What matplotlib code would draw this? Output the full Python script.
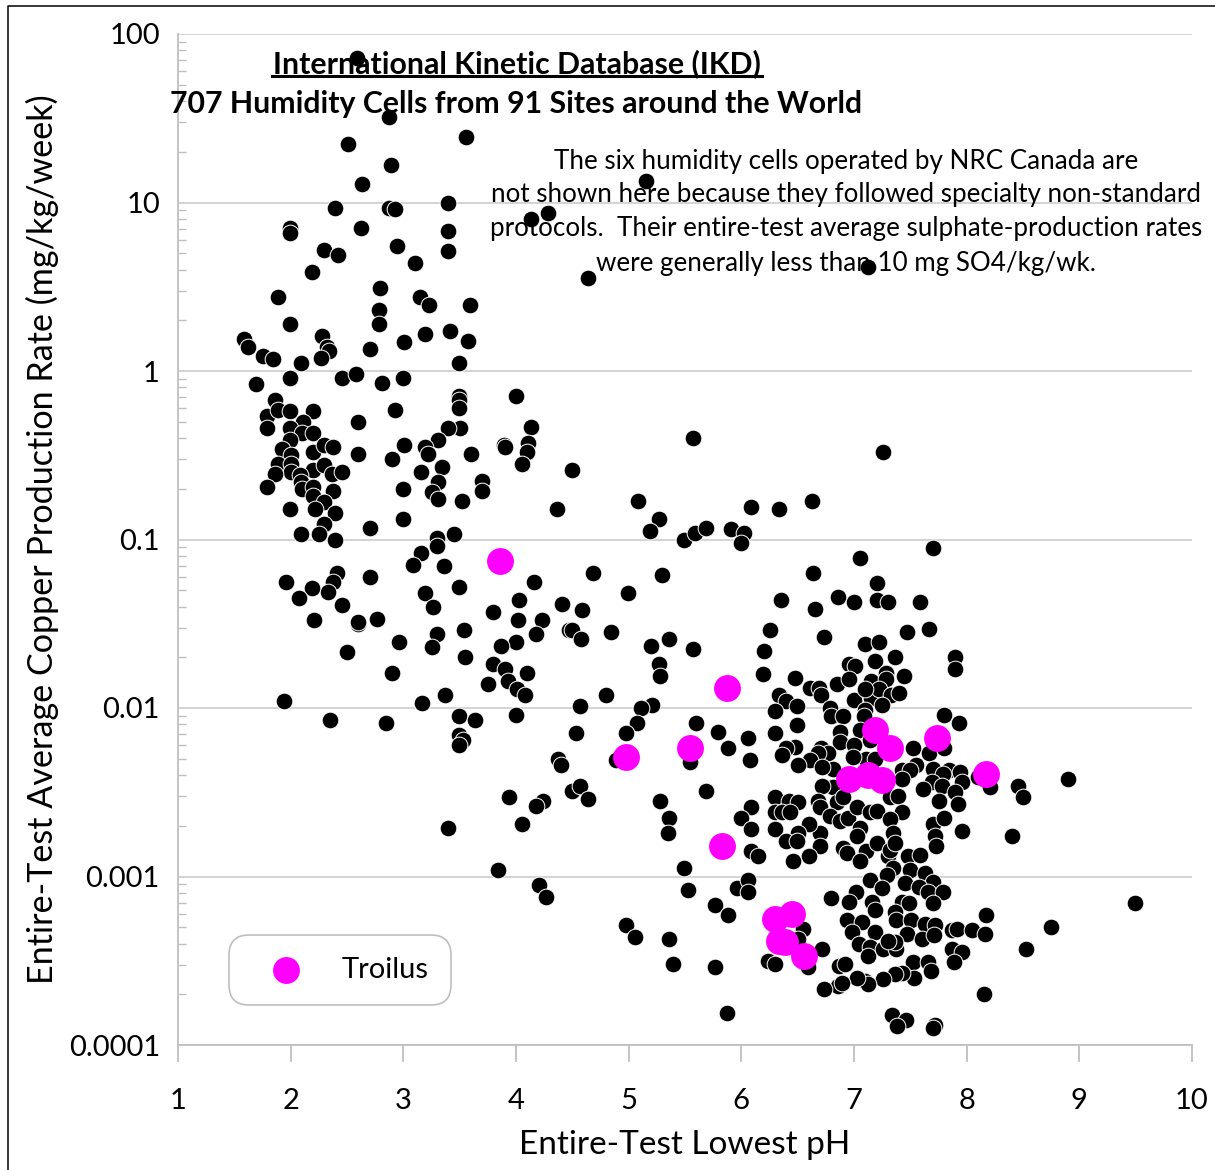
import numpy as np
import matplotlib
matplotlib.use("Agg")
import matplotlib.pyplot as plt
from matplotlib.lines import Line2D
from matplotlib.ticker import LogLocator, NullFormatter

plt.rcParams['font.family'] = ['Lato', 'DejaVu Sans']

# values: lowest pH and log10 of the copper rate (mg/kg/week)
high_ph = [2.59, 2.51, 2.87, 3.56, 2.89, 2.63, 2.39, 2.87, 2.93, 3.40, 1.99, 1.99, 2.62, 3.40, 2.30,
           2.42, 2.94, 3.40, 3.10, 2.19, 2.79, 1.89, 3.15, 3.23, 3.59, 2.78, 2.78, 1.99, 2.28, 3.41,
           3.19, 3.57, 3.01, 2.32, 2.34, 2.27, 2.70, 1.59, 1.62, 1.75, 1.84, 2.09, 3.49,
           5.15, 4.13, 4.28, 4.64, 7.12]
high_log = [1.86, 1.35, 1.51, 1.39, 1.22, 1.11, 0.97, 0.97, 0.96, 1.00, 0.85, 0.82, 0.85, 0.83, 0.72,
            0.69, 0.74, 0.71, 0.64, 0.59, 0.49, 0.44, 0.44, 0.39, 0.39, 0.36, 0.28, 0.28, 0.21, 0.24,
            0.22, 0.18, 0.17, 0.14, 0.12, 0.08, 0.13, 0.19, 0.14, 0.09, 0.07, 0.05, 0.05,
            1.13, 0.90, 0.94, 0.55, 0.62]

upper_ph = [2.46, 2.58, 2.81, 3.00, 1.99, 1.69, 3.49, 3.49, 3.49, 4.00, 1.86, 1.79, 1.89, 1.99, 2.20,
            2.11, 1.79, 1.99, 2.10, 2.20, 2.60, 2.93, 3.50, 3.40, 3.31, 3.19, 3.22, 3.01, 2.90, 2.60,
            3.60, 3.89, 4.13, 3.90, 4.11, 4.10, 4.05, 3.34, 3.16, 3.31, 3.25, 3.31, 3.52, 3.70, 3.70,
            3.00, 1.99, 1.92, 2.00, 1.89, 2.00, 2.00, 1.86, 1.79, 2.20, 2.30, 2.38, 2.20, 2.30, 2.37,
            2.46, 2.08, 2.09, 2.10, 2.20, 2.20, 2.38, 2.30, 2.22, 1.99, 2.39, 2.30, 2.09, 2.25, 2.39,
            2.70, 3.00, 3.30, 3.45, 4.36, 4.50, 5.08, 5.27, 5.19, 5.57, 7.26, 6.63, 6.33, 6.09, 5.49,
            5.59, 5.69, 5.91, 6.02]
upper_log = [-0.04, -0.02, -0.07, -0.04, -0.04, -0.08, -0.15, -0.17, -0.22, -0.15, -0.17, -0.27, -0.23, -0.24, -0.24,
             -0.30, -0.34, -0.34, -0.37, -0.37, -0.30, -0.23, -0.34, -0.34, -0.41, -0.45, -0.49, -0.44, -0.52, -0.49,
             -0.49, -0.44, -0.33, -0.45, -0.43, -0.48, -0.55, -0.57, -0.60, -0.66, -0.72, -0.76, -0.77, -0.65, -0.71,
             -0.70, -0.41, -0.46, -0.50, -0.55, -0.55, -0.60, -0.61, -0.69, -0.48, -0.44, -0.45, -0.59, -0.56, -0.61,
             -0.60, -0.62, -0.66, -0.70, -0.69, -0.74, -0.71, -0.78, -0.82, -0.82, -0.84, -0.91, -0.97, -0.97, -1.00,
             -0.93, -0.88, -0.99, -0.97, -0.82, -0.59, -0.77, -0.88, -0.95, -0.40, -0.48, -0.77, -0.82, -0.81, -1.00,
             -0.96, -0.93, -0.94, -0.96]

mid_ph = [6.00, 3.30, 3.16, 3.09, 3.36, 3.49, 3.19, 3.26, 3.80, 4.03, 4.02, 4.16, 4.23, 4.41, 2.70,
          2.41, 2.38, 2.33, 2.19, 1.96, 2.07, 2.46, 2.21, 2.60, 2.60, 2.77, 2.50, 2.96, 2.90, 3.54,
          3.30, 3.25, 3.55, 4.18, 4.47, 4.00, 3.87, 3.80, 3.90, 4.10, 3.93, 4.01, 4.08, 3.75, 3.37,
          3.17, 1.94, 4.80, 4.57, 4.50, 4.58, 4.84, 4.99, 4.68, 4.59, 5.30, 5.20, 5.36, 5.57, 5.27,
          5.28, 5.21, 5.11, 6.35, 6.25, 6.20, 6.19, 6.73, 7.47, 7.67, 7.10, 7.22, 6.64, 7.20, 6.86,
          7.00, 6.65, 7.20, 7.30, 7.59, 7.05, 7.70, 7.90, 7.90]
mid_log = [-1.02, -1.04, -1.08, -1.15, -1.16, -1.28, -1.32, -1.40, -1.43, -1.36, -1.48, -1.25, -1.48, -1.38, -1.22,
           -1.20, -1.25, -1.31, -1.29, -1.25, -1.35, -1.39, -1.48, -1.50, -1.49, -1.47, -1.67, -1.61, -1.79, -1.54,
           -1.56, -1.64, -1.70, -1.56, -1.54, -1.61, -1.63, -1.74, -1.77, -1.79, -1.84, -1.89, -1.92, -1.86, -1.92,
           -1.97, -1.96, -1.92, -1.99, -1.54, -1.59, -1.55, -1.32, -1.20, -1.42, -1.21, -1.63, -1.59, -1.65, -1.74,
           -1.81, -1.98, -2.00, -1.36, -1.54, -1.66, -1.80, -1.58, -1.55, -1.53, -1.62, -1.61, -1.20, -1.26, -1.34,
           -1.37, -1.41, -1.36, -1.37, -1.37, -1.11, -1.05, -1.70, -1.77]

cluster_ph = [7.19, 7.36, 6.96, 7.01, 6.48, 6.61, 6.69, 6.71, 6.85, 6.96, 7.15, 7.28, 7.28, 7.44, 6.33,
              6.40, 6.49, 6.30, 7.00, 7.15, 7.22, 7.10, 7.33, 7.40, 7.25, 7.10, 6.79, 6.80, 6.90, 7.09,
              6.49, 6.30, 6.06, 7.80, 7.93, 7.05, 6.88, 6.88, 7.14, 7.00, 6.48, 6.40, 6.36, 6.71, 6.77,
              6.68, 6.61, 6.50, 6.08, 7.52, 7.67, 7.80, 7.11, 7.19, 6.99, 6.81, 6.72, 7.55, 7.70, 7.84,
              7.94, 7.43, 7.50, 7.79, 7.69, 7.78, 7.96, 7.43, 7.61, 7.90, 8.21, 8.10, 7.32, 7.39, 7.75,
              7.92, 8.46, 8.50, 8.90, 6.81, 6.72, 6.68, 6.85, 6.90, 6.30, 6.42, 6.50, 6.09, 6.30, 6.36,
              6.43, 6.00, 6.09, 6.30, 6.70, 6.79, 6.88, 6.95, 7.03, 7.14, 7.20, 7.43, 7.32, 7.70, 7.80,
              7.96, 8.40, 7.72, 7.35, 7.05, 7.03, 6.70, 6.60, 6.50, 6.40, 6.49, 6.70, 6.60, 6.46, 6.09,
              6.15, 6.90, 6.94, 7.11, 7.20, 7.05, 7.30, 7.32, 7.36, 7.73, 7.48, 7.59, 7.35, 7.50, 7.63,
              7.29]
cluster_log = [-1.72, -1.70, -1.74, -1.75, -1.82, -1.88, -1.88, -1.92, -1.86, -1.83, -1.84, -1.79, -1.83, -1.81, -1.92,
               -1.96, -1.99, -2.02, -1.95, -1.94, -1.89, -1.89, -1.92, -1.91, -1.98, -2.01, -2.00, -2.05, -2.05, -2.05,
               -2.10, -2.15, -2.18, -2.04, -2.09, -2.13, -2.14, -2.20, -2.19, -2.22, -2.23, -2.24, -2.28, -2.24, -2.27,
               -2.27, -2.31, -2.34, -2.31, -2.24, -2.27, -2.24, -2.30, -2.30, -2.29, -2.36, -2.35, -2.34, -2.36, -2.37,
               -2.38, -2.37, -2.37, -2.39, -2.44, -2.46, -2.44, -2.42, -2.48, -2.50, -2.47, -2.41, -2.53, -2.52, -2.55,
               -2.57, -2.46, -2.53, -2.42, -2.47, -2.46, -2.55, -2.56, -2.53, -2.53, -2.55, -2.56, -2.59, -2.62, -2.62,
               -2.62, -2.65, -2.72, -2.72, -2.59, -2.64, -2.67, -2.65, -2.59, -2.62, -2.61, -2.62, -2.66, -2.69, -2.65,
               -2.73, -2.76, -2.76, -2.74, -2.71, -2.76, -2.74, -2.69, -2.74, -2.79, -2.79, -2.82, -2.88, -2.91, -2.85,
               -2.88, -2.83, -2.86, -2.85, -2.80, -2.91, -2.88, -2.84, -2.80, -2.82, -2.88, -2.87, -2.95, -2.96, -2.98,
               -2.99]

scatter_ph = [5.36, 5.35, 5.28, 5.69, 5.49, 4.89, 5.54, 5.60, 5.79, 5.88, 5.07, 4.98, 4.53, 4.37, 4.40,
              4.50, 4.57, 4.64, 3.94, 4.24, 4.18, 4.05, 3.40, 3.84, 4.20, 4.27, 3.49, 3.64, 2.35, 2.85,
              4.00, 3.49, 3.53, 3.49]
scatter_log = [-2.65, -2.74, -2.55, -2.49, -2.95, -2.31, -2.32, -2.09, -2.14, -2.24, -2.09, -2.15, -2.15, -2.30, -2.34,
               -2.49, -2.46, -2.54, -2.53, -2.55, -2.58, -2.69, -2.71, -2.96, -3.05, -3.12, -2.05, -2.07, -2.07, -2.09,
               -2.04, -2.16, -2.19, -2.22]

low_ph = [5.53, 5.96, 6.06, 6.06, 5.77, 5.88, 4.98, 5.06, 5.36, 5.39, 5.77, 5.87, 7.14, 7.25, 7.45,
          7.70, 7.58, 7.66, 7.79, 7.70, 7.02, 6.96, 6.80, 7.16, 7.19, 7.43, 7.49, 7.36, 7.37, 7.51,
          7.63, 7.72, 6.94, 7.07, 6.98, 7.19, 7.47, 7.60, 7.71, 7.87, 7.91, 8.05, 8.16, 8.17, 7.04,
          7.14, 7.12, 7.26, 7.37, 7.36, 7.30, 7.87, 7.96, 7.89, 7.52, 7.66, 7.68, 7.53, 7.43, 7.36,
          7.26, 7.10, 7.12, 7.03, 6.87, 6.92, 6.86, 6.89, 6.73, 8.15, 7.34, 7.46, 7.38, 7.72, 7.70,
          6.55, 6.50, 6.72, 6.24, 6.30, 6.59, 9.49, 8.75, 8.53]
low_log = [-3.08, -3.07, -3.02, -3.09, -3.17, -3.23, -3.29, -3.36, -3.37, -3.52, -3.54, -3.81, -3.02, -3.07, -3.04,
           -3.03, -3.06, -3.09, -3.09, -3.16, -3.09, -3.15, -3.13, -3.15, -3.20, -3.15, -3.16, -3.21, -3.26, -3.26,
           -3.28, -3.29, -3.26, -3.27, -3.33, -3.33, -3.34, -3.37, -3.35, -3.32, -3.31, -3.32, -3.34, -3.23, -3.40,
           -3.42, -3.47, -3.43, -3.43, -3.39, -3.38, -3.43, -3.45, -3.51, -3.51, -3.51, -3.56, -3.60, -3.57, -3.58,
           -3.61, -3.62, -3.64, -3.60, -3.53, -3.52, -3.65, -3.63, -3.67, -3.70, -3.82, -3.85, -3.89, -3.88, -3.90,
           -3.31, -3.37, -3.43, -3.50, -3.52, -3.54, -3.16, -3.30, -3.43]

troilus_ph = [3.86, 4.98, 5.54, 5.87, 5.83, 7.19, 7.32, 7.74, 8.17, 6.96, 7.12, 7.25, 6.30, 6.45, 6.33, 6.39, 6.56]
troilus_log = [-1.13, -2.29, -2.24, -1.88, -2.82, -2.13, -2.24, -2.18, -2.39, -2.42, -2.40, -2.43, -3.25, -3.22,
               -3.38, -3.39, -3.47]

x_ticks = [1, 2, 3, 4, 5, 6, 7, 8, 9, 10]
y_ticks = [0.0001, 0.001, 0.01, 0.1, 1, 10, 100]
y_labels = ['0.0001', '0.001', '0.01', '0.1', '1', '10', '100']

title_lines = ['International Kinetic Database (IKD)',
               '707 Humidity Cells from 91 Sites around the World']
note_lines = ['The six humidity cells operated by NRC Canada are',
              'not shown here because they followed specialty non-standard',
              'protocols.  Their entire-test average sulphate-production rates',
              'were generally less than 10 mg SO4/kg/wk.']

W, H = 1215, 1170
GREY = '#bfbfbf'

all_ph = np.concatenate([high_ph, upper_ph, mid_ph, cluster_ph, scatter_ph, low_ph])
all_log = np.concatenate([high_log, upper_log, mid_log, cluster_log, scatter_log, low_log])

fig = plt.figure(figsize=(W / 100, H / 100), dpi=100)
ax = fig.add_axes([178 / W, (H - 1045) / H, 1014 / W, 1011 / H])

ax.scatter(all_ph, 10.0 ** all_log, s=145, c='black', edgecolors='white', linewidths=0.7, zorder=3, clip_on=False)
ax.scatter(troilus_ph, 10.0 ** np.array(troilus_log), s=375, c='#ff00ff', linewidths=0, zorder=4, label='Troilus')

ax.set_xlim(1, 10)
ax.set_yscale('log')
ax.set_ylim(0.0001, 100)
ax.set_xticks(x_ticks)
ax.set_yticks(y_ticks, labels=y_labels)
ax.yaxis.set_minor_locator(LogLocator(base=10, subs=np.arange(2, 10), numticks=12))
ax.yaxis.set_minor_formatter(NullFormatter())
ax.grid(True, axis='y', which='major', color='#d0d0d0', linewidth=1.3, zorder=1)
ax.set_axisbelow(True)

for side in ['top', 'right']:
    ax.spines[side].set_visible(False)
for side in ['left', 'bottom']:
    ax.spines[side].set_color(GREY)
    ax.spines[side].set_linewidth(1.3)

ax.tick_params(axis='x', which='major', direction='out', length=12, width=1.3, color=GREY,
               labelsize=21, pad=19, labelcolor='black')
ax.tick_params(axis='y', which='major', length=0, labelsize=21, pad=13, labelcolor='black')
ax.tick_params(axis='y', which='minor', direction='in', length=6, width=1.0, color=GREY)

fig.text(685 / W, 1 - 1145 / H, 'Entire-Test Lowest pH', fontsize=24, ha='center', va='center')
fig.text(42 / W, 1 - 539 / H, 'Entire-Test Average Copper Production Rate (mg/kg/week)', fontsize=24.55,
         rotation=90, ha='center', va='center')

fig.text(517 / W, 1 - 64 / H, title_lines[0], fontsize=21.8, fontweight='bold', ha='center', va='center', zorder=6)
fig.text(516 / W, 1 - 104 / H, title_lines[1], fontsize=21.8, fontweight='bold', ha='center', va='center', zorder=6)
fig.add_artist(Line2D([272 / W, 762 / W], [1 - 76 / H, 1 - 76 / H], color='black', linewidth=2.2, zorder=6))

for label, yp in zip(note_lines, [161, 194.5, 228.5, 263]):
    fig.text(846 / W, 1 - yp / H, label, fontsize=18.75, ha='center', va='center', zorder=6)

leg = ax.legend(loc='center', bbox_to_anchor=((340 - 178) / 1014, (1045 - 970) / 1011), fontsize=21,
                frameon=True, fancybox=True, framealpha=1, edgecolor=GREY, borderpad=0.75,
                handlelength=2.41, handletextpad=0.69, borderaxespad=0, labelcolor='black')
leg.get_frame().set_boxstyle('round', pad=0, rounding_size=0.68)
leg.get_frame().set_linewidth(1.2)
leg.set_zorder(5)

# black frame of the pasted picture, left and top only
fig.add_artist(Line2D([7.5 / W, 7.5 / W, 1], [0, 1 - 5.5 / H, 1 - 5.5 / H], color='black', linewidth=1.1))

fig.savefig('out.png', dpi=100)
